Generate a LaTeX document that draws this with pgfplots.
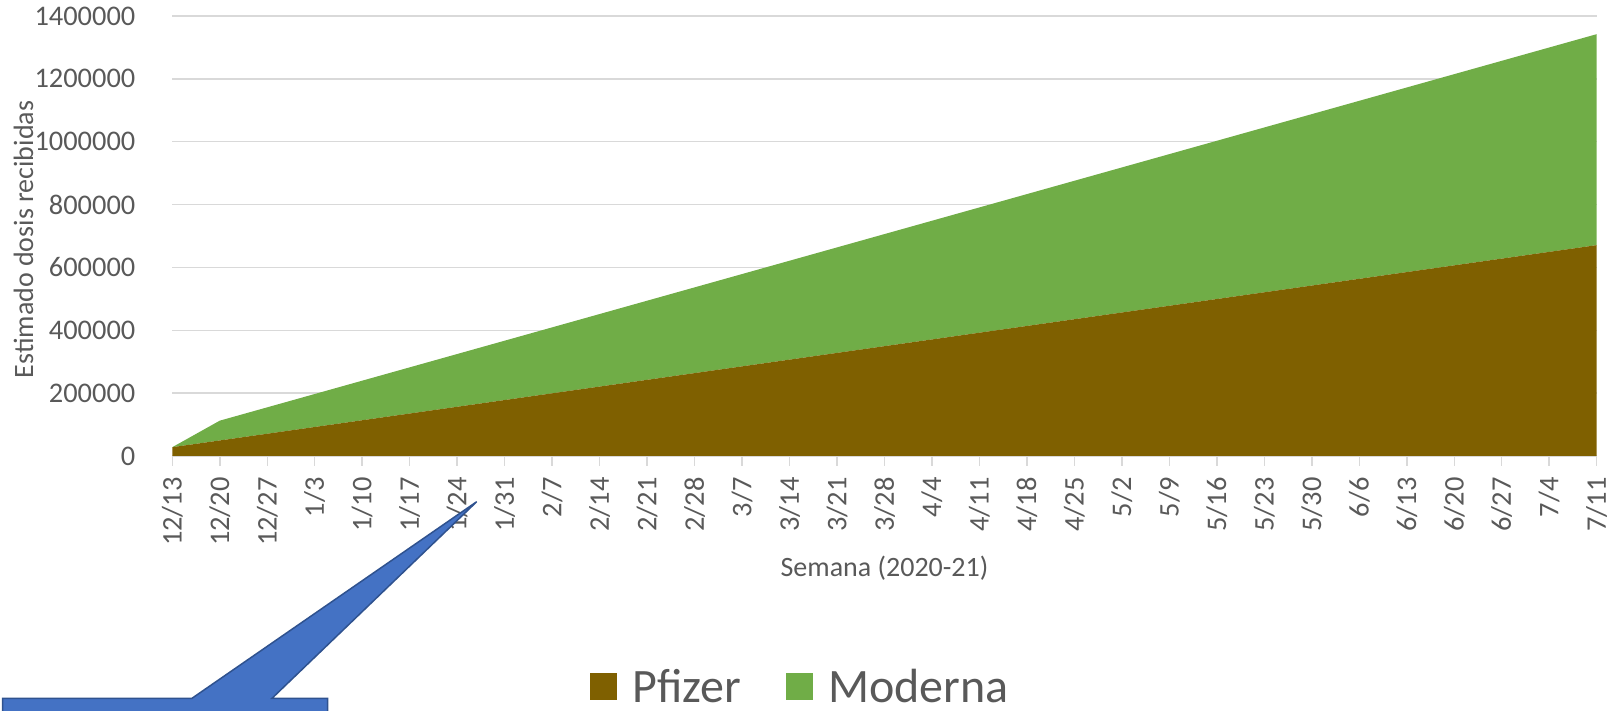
\documentclass[border=0pt]{standalone}
\usepackage{pgfplots}
\pgfplotsset{compat=1.18}
\usepackage{pgfplotstable}
\usepackage{fontspec}
\setmainfont{Carlito}
\definecolor{pfz}{HTML}{7F6000}
\definecolor{mod}{HTML}{70AD47}
\definecolor{gridc}{HTML}{D9D9D9}
\definecolor{txt}{HTML}{595959}
\definecolor{callfill}{HTML}{4472C4}
\definecolor{callline}{HTML}{2F528F}

\pgfplotstableread{
i pfizer moderna
0 28000 0
1 49430 63000
2 70860 83975
3 92290 104950
4 113720 125925
5 135150 146900
6 156580 167875
7 178010 188850
8 199440 209825
9 220870 230800
10 242300 251775
11 263730 272750
12 285160 293725
13 306590 314700
14 328020 335675
15 349450 356650
16 370880 377625
17 392310 398600
18 413740 419575
19 435170 440550
20 456600 461525
21 478030 482500
22 499460 503475
23 520890 524450
24 542320 545425
25 563750 566400
26 585180 587375
27 606610 608350
28 628040 629325
29 649470 650300
30 670900 671275
}\datatable

\begin{document}
\begin{tikzpicture}
\begin{axis}[
  at={(86.15pt,127.5pt)}, anchor=south west,
  scale only axis, width=712.2pt, height=220pt,
  xmin=0, xmax=30, ymin=0, ymax=1400000,
  stack plots=y,
  axis x line*=bottom, axis y line*=left,
  x axis line style={draw=gridc, line width=0.75pt},
  y axis line style={draw=none},
  ymajorgrids, grid style={draw=gridc, line width=0.75pt},
  xtick={0,...,30},
  xticklabels={12/13,12/20,12/27,1/3,1/10,1/17,1/24,1/31,2/7,2/14,2/21,2/28,3/7,3/14,3/21,3/28,4/4,4/11,4/18,4/25,5/2,5/9,5/16,5/23,5/30,6/6,6/13,6/20,6/27,7/4,7/11},
  ytick={0,200000,...,1400000},
  scaled y ticks=false,
  tick align=outside,
  xtick style={draw=gridc, line width=0.75pt},
  ytick style={draw=none},
  major tick length=5pt,
  /pgf/number format/assume math mode=true,
  yticklabel style={/pgf/number format/fixed, /pgf/number format/1000 sep={}, anchor=east, inner sep=0pt, xshift=-13.3pt, text=txt, font=\fontsize{14.2}{16}\selectfont},
  xticklabel style={rotate=90, anchor=east, inner sep=0pt, text=txt, font=\fontsize{14.2}{16}\selectfont},
  xticklabel shift=5.5pt,
  xlabel={Semana (2020-21)},
  ylabel={Estimado dosis recibidas},
  every axis x label/.style={at={(axis description cs:0.5,-0.2743)}, anchor=base, inner sep=0pt, text=txt, font=\fontsize{14}{16}\selectfont},
  every axis y label/.style={at={(axis description cs:-0.0978,0.492)}, rotate=90, anchor=base, inner sep=0pt, text=txt, font=\fontsize{14}{16}\selectfont},
  legend columns=2,
  legend style={at={(axis description cs:0.4455,-0.525)}, anchor=center, draw=none, fill=none,
    font=\fontsize{24}{28}\selectfont, text=txt,
    nodes={inner sep=0pt, inner xsep=7.5pt},
    /tikz/every even column/.append style={column sep=15pt}},
  legend image code/.code={\fill[#1] (0pt,-6.75pt) rectangle (13.5pt,6.75pt);},
]
\addplot[fill=pfz, draw=none] table[x=i, y=pfizer] {\datatable} \closedcycle;
\addlegendentry{Pfizer}
\addplot[fill=mod, draw=none] table[x=i, y=moderna] {\datatable} \closedcycle;
\addlegendentry{Moderna}
\end{axis}
% callout shape
\filldraw[fill=callfill, draw=callline, line width=0.75pt]
  (1.35pt,-5pt) -- (1.35pt,6.35pt) -- (96pt,6.35pt) -- (238.35pt,104.65pt) -- (136pt,6.35pt) -- (163.85pt,6.35pt) -- (163.85pt,-5pt) -- cycle;
\pgfresetboundingbox
\useasboundingbox (0,0) rectangle (807pt,355.5pt);
\end{tikzpicture}
\end{document}
